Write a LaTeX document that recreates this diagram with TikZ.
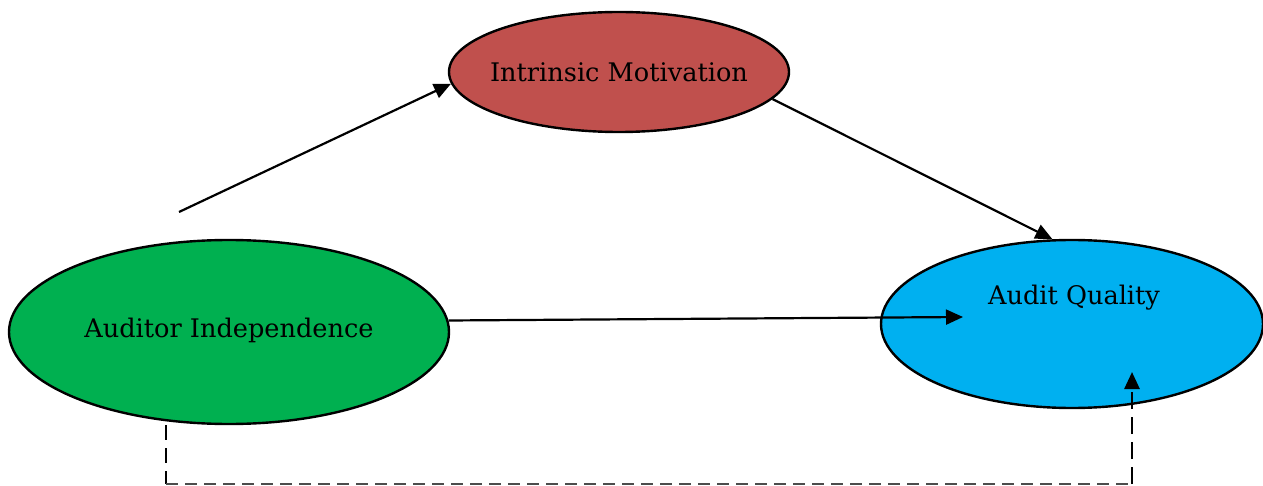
\documentclass[tikz,border=0pt]{standalone}
\usepackage{fontspec}
\setmainfont{DejaVu Serif}
\usetikzlibrary{shapes.geometric,arrows.meta}
\definecolor{imred}{HTML}{C0504D}
\definecolor{aigreen}{HTML}{00B050}
\definecolor{aqblue}{HTML}{00B0F0}
\tikzset{
  ell/.style={ellipse, draw=black, line width=1.2pt, inner sep=0pt},
  lbl/.style={font=\fontsize{12.8}{15}\selectfont, inner sep=0pt},
  arr/.style={line width=1.1pt, -{Triangle[length=8.5pt,width=7.5pt]}},
  dashleft/.style={line width=0.8pt, dash pattern=on 7.5pt off 4pt},
  dashbottom/.style={line width=0.8pt, draw=black!70, dash pattern=on 6pt off 3.5pt},
  dashright/.style={line width=1.3pt, dash pattern=on 8.5pt off 4pt, -{Triangle[length=8.5pt,width=7.5pt]}}
}
\begin{document}
\begin{tikzpicture}[x=0.5pt,y=-0.5pt]
\useasboundingbox (0,0) rectangle (1263,486);
\node[ell, fill=imred, minimum width=170pt, minimum height=60pt] (im) at (619,72) {};
\node[ell, fill=aigreen, minimum width=220pt, minimum height=92pt] (ai) at (229,332) {};
\node[ell, fill=aqblue, minimum width=191pt, minimum height=84pt] (aq) at (1072,324) {};
\node[lbl] (imt) at (619,72) {Intrinsic Motivation};
\node[lbl] (ait) at (229,330) {Auditor Independence};
\node[lbl] (aqt) at (1074,298) {Audit Quality};
\coordinate (s1) at (179,212);
\coordinate (e3) at (963,317);
\coordinate (d1) at (166,484);
\coordinate (d2) at (1132,484);
\coordinate (d3) at (1132,372);
\draw[arr] (s1) -- (im.184);
\draw[arr] (im.-10) -- (aq.103);
\draw[arr] (ai.3) -- (e3);
\draw[dashleft] (ai.south -| d1) -- (d1);
\draw[dashbottom] (d1) -- (d2);
\draw[dashright] (d2) -- (d3);
\end{tikzpicture}
\end{document}
